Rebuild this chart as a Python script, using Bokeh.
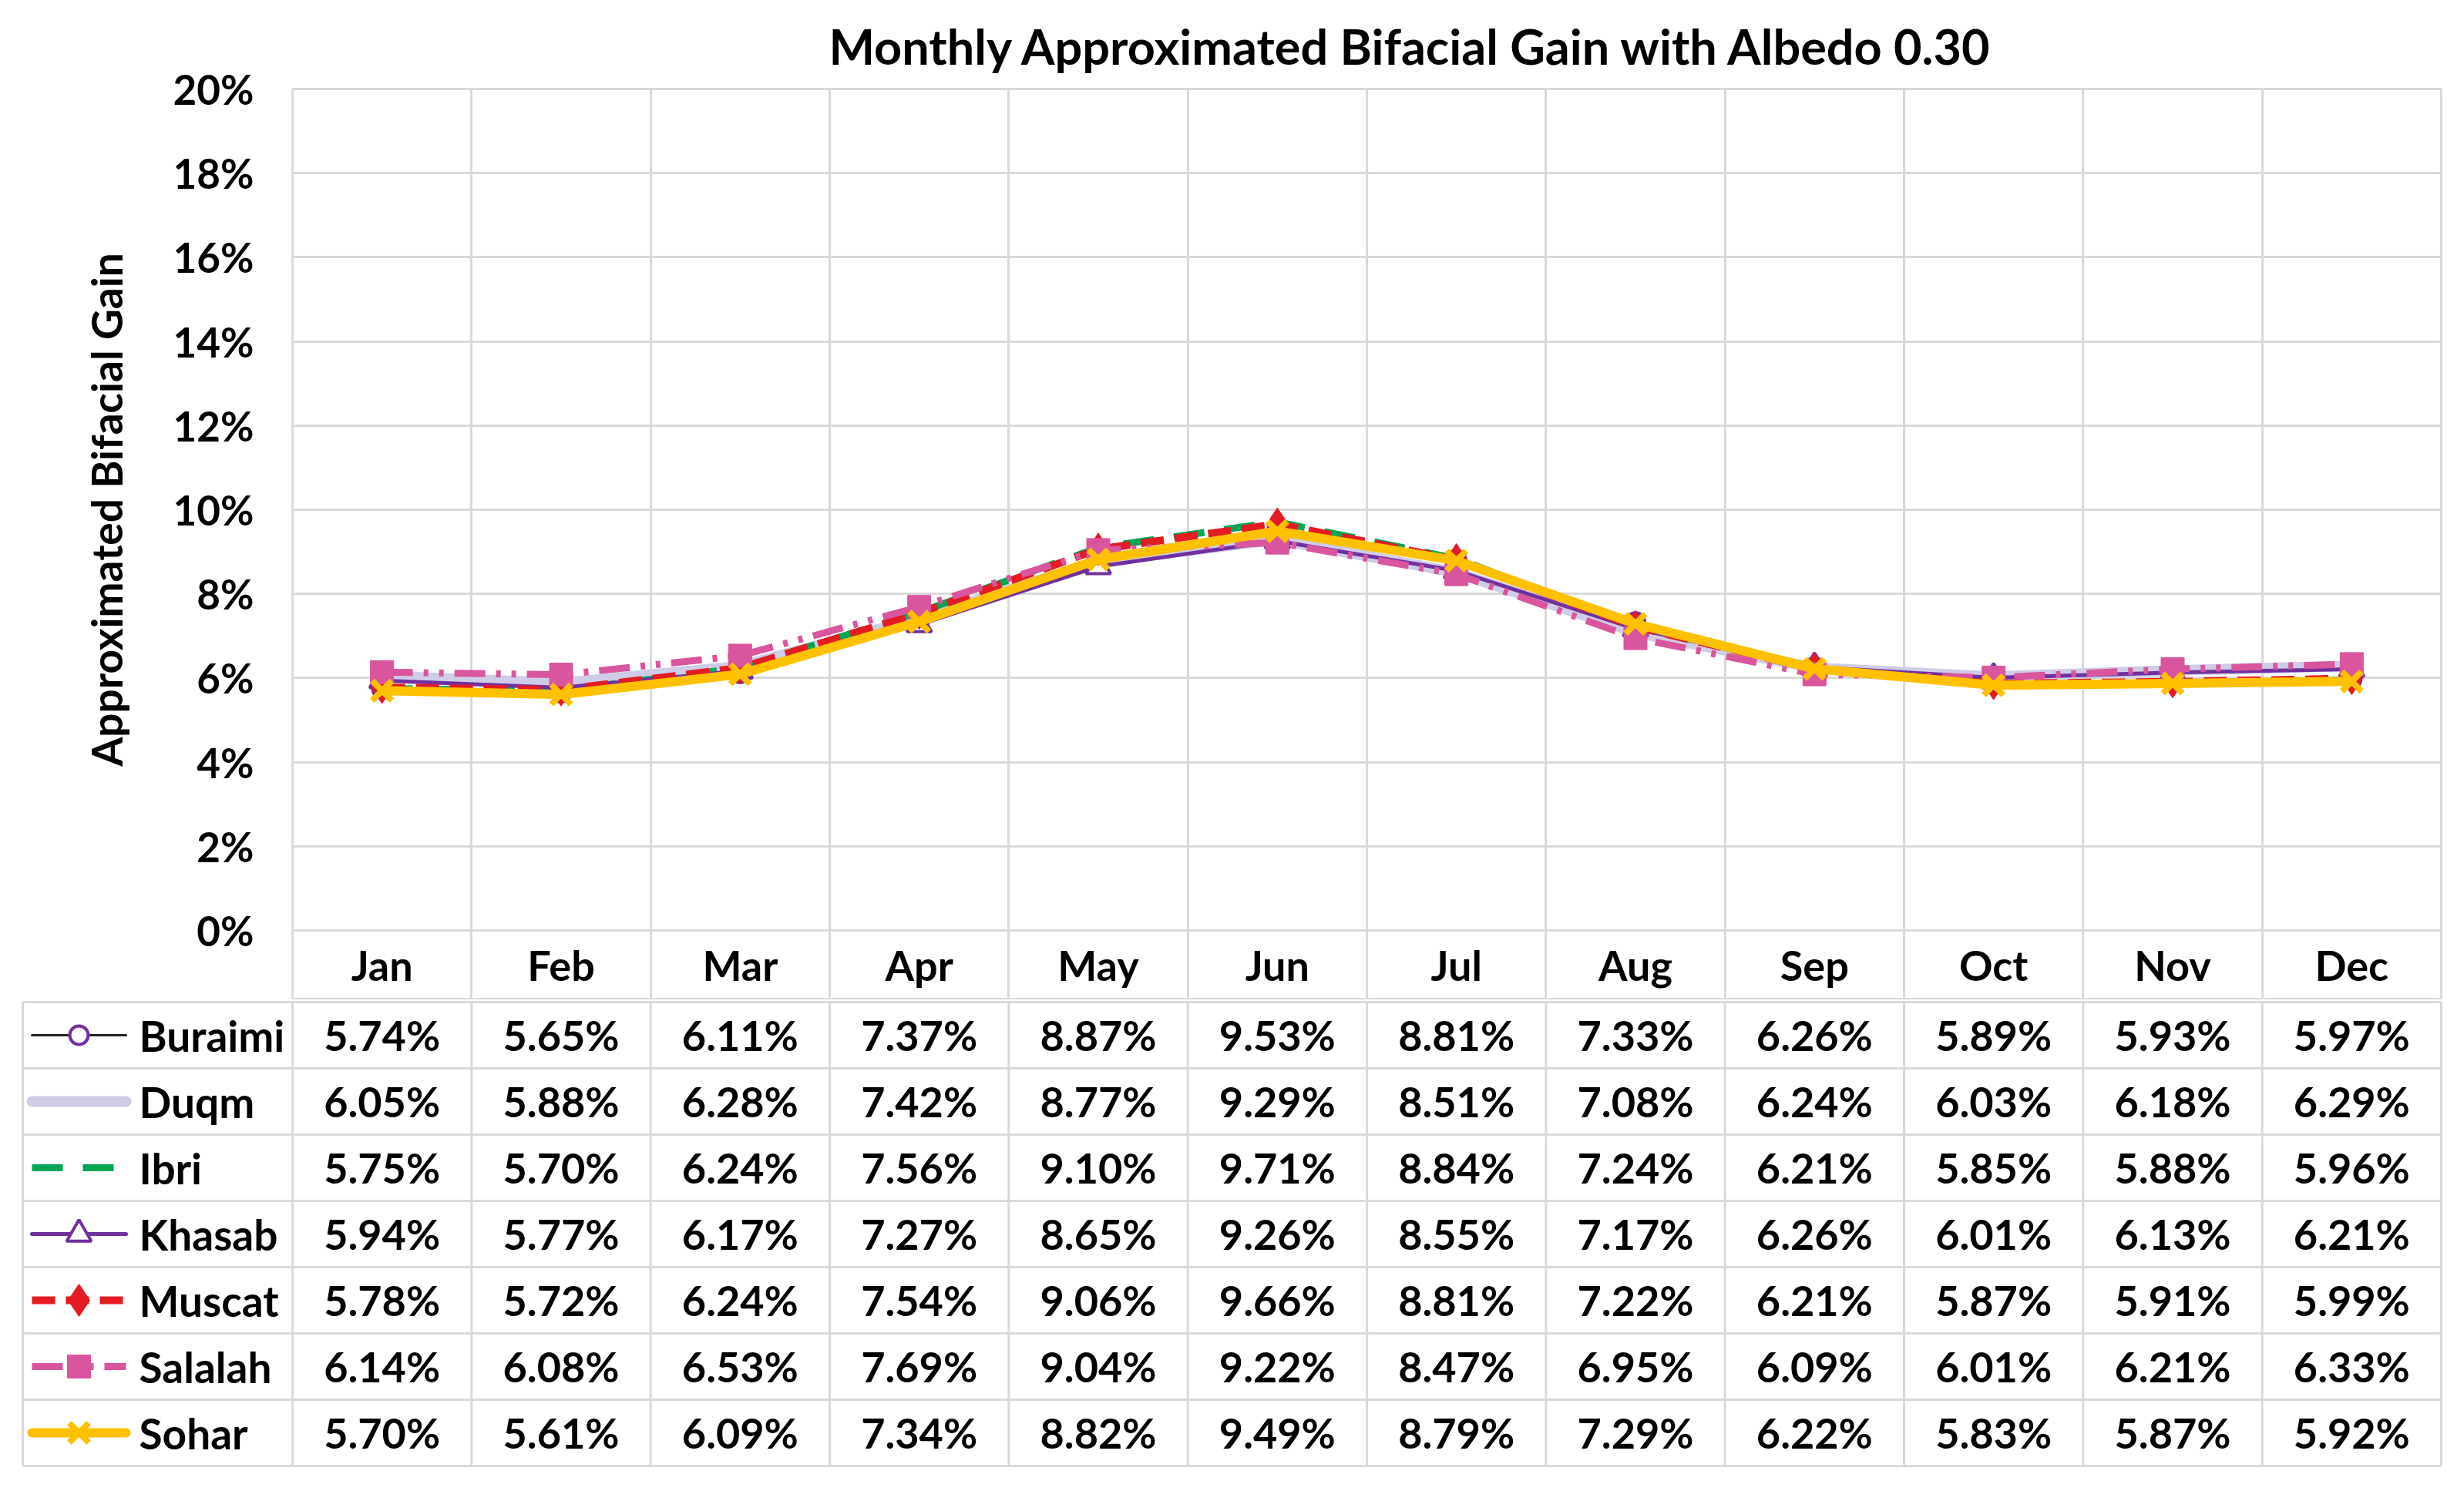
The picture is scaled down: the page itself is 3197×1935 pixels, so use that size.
import math
from bokeh.plotting import figure
from bokeh.layouts import row
from bokeh.models import Range1d, FixedTicker, PrintfTickFormatter
from bokeh.core.properties import value
from bokeh.embed import file_html
from bokeh.resources import INLINE

# ---------------- data ----------------
months = ["Jan", "Feb", "Mar", "Apr", "May", "Jun", "Jul", "Aug", "Sep", "Oct", "Nov", "Dec"]
sites = ["Buraimi", "Duqm", "Ibri", "Khasab", "Muscat", "Salalah", "Sohar"]
buraimi = [5.74, 5.65, 6.11, 7.37, 8.87, 9.53, 8.81, 7.33, 6.26, 5.89, 5.93, 5.97]
duqm = [6.05, 5.88, 6.28, 7.42, 8.77, 9.29, 8.51, 7.08, 6.24, 6.03, 6.18, 6.29]
ibri = [5.75, 5.70, 6.24, 7.56, 9.10, 9.71, 8.84, 7.24, 6.21, 5.85, 5.88, 5.96]
khasab = [5.94, 5.77, 6.17, 7.27, 8.65, 9.26, 8.55, 7.17, 6.26, 6.01, 6.13, 6.21]
muscat = [5.78, 5.72, 6.24, 7.54, 9.06, 9.66, 8.81, 7.22, 6.21, 5.87, 5.91, 5.99]
salalah = [6.14, 6.08, 6.53, 7.69, 9.04, 9.22, 8.47, 6.95, 6.09, 6.01, 6.21, 6.33]
sohar = [5.70, 5.61, 6.09, 7.34, 8.82, 9.49, 8.79, 7.29, 6.22, 5.83, 5.87, 5.92]
y_ticks = [0, 2, 4, 6, 8, 10, 12, 14, 16, 18, 20]
y_title = "Approximated Bifacial Gain"

series = [buraimi, duqm, ibri, khasab, muscat, salalah, sohar]

# ---------------- styles ----------------
styles = [
    dict(color="#222222", width=3, dash="solid", marker="circle", mcolor="#7030A0", mfill="white", msize=24, mlw=4),
    dict(color="#CFCCE8", width=14, dash="solid", marker=None),
    dict(color="#00A651", width=9, dash="40 26", marker=None),
    dict(color="#7030A0", width=5, dash="solid", marker="triangle", mcolor="#7030A0", mfill="white", msize=32, mlw=4),
    dict(color="#E31B23", width=10, dash="30 14", marker="diamond", mcolor="#E31B23", mfill="#E31B23", msize=42, mlw=1),
    dict(color="#D9559E", width=9, dash="40 14 6 14 6 14", marker="square", mcolor="#D9559E", mfill="#D9559E", msize=30, mlw=1),
    dict(color="#FFC000", width=12, dash="solid", marker="x", mcolor="#FFC000", mfill="#FFC000", msize=36, mlw=8),
]

FONT = "Lato"
GRID = "#D9D9D9"
W = 3181
LW = 210                        # width of the strip that holds the y-axis title
FR_L, FR_R = 379, 3167          # chart frame, page px
FR_T, Y0 = 114, 1207            # frame top, 0% line
HEAD = 90                       # month header below 0%
COL = (FR_R - FR_L) / 12.0
PXU = (Y0 - FR_T) / 20.0
H = Y0 + HEAD


def tx(px):
    return (px - FR_L) / COL


# ---------------- y-axis title strip ----------------
yl = figure(width=LW, height=H, x_range=Range1d(0, LW), y_range=Range1d(-HEAD / PXU, 20),
            output_backend="svg", toolbar_location=None, x_axis_location=None,
            y_axis_location=None, min_border_left=0, min_border_right=0,
            min_border_top=FR_T, min_border_bottom=0)
yl.xgrid.visible = False
yl.ygrid.visible = False
yl.outline_line_color = None
yl.text([137], [10], text=[y_title], angle=math.pi / 2, text_font=value(FONT),
        text_font_style="bold", text_font_size="55px", text_color="black",
        text_align="center", text_baseline="middle")

# ---------------- chart ----------------
p = figure(width=W - LW, height=H, x_range=Range1d(0, 12),
           y_range=Range1d(-HEAD / PXU, 20),
           output_backend="svg", toolbar_location=None, x_axis_location=None,
           min_border_left=FR_L - LW, min_border_right=W - FR_R, min_border_top=FR_T,
           min_border_bottom=0)
p.title.text = "Monthly Approximated Bifacial Gain with Albedo 0.30"
p.title.text_font = FONT
p.title.text_font_style = "bold"
p.title.text_font_size = "63px"
p.title.text_color = "black"
p.title.text_line_height = 1.0
p.title.align = "left"
p.title.offset = 1075 - FR_L
p.title.standoff = 38

p.yaxis.ticker = FixedTicker(ticks=y_ticks)
p.yaxis.formatter = PrintfTickFormatter(format="%d%%")
p.yaxis.major_label_text_font = FONT
p.yaxis.major_label_text_font_style = "bold"
p.yaxis.major_label_text_font_size = "53px"
p.yaxis.major_label_text_color = "black"
p.yaxis.axis_line_color = None
p.yaxis.major_tick_line_color = None
p.yaxis.minor_tick_line_color = None
p.yaxis.major_tick_in = 0
p.yaxis.major_tick_out = 0
p.yaxis.major_label_standoff = 50

p.ygrid.grid_line_color = GRID
p.ygrid.grid_line_width = 3
p.xgrid.ticker = FixedTicker(ticks=list(range(13)))
p.xgrid.grid_line_color = GRID
p.xgrid.grid_line_width = 3
p.outline_line_color = GRID
p.outline_line_width = 3

xc = [i + 0.5 for i in range(len(months))]
for vals, st in zip(series, styles):
    p.line(xc, vals, line_color=st["color"], line_width=st["width"], line_dash=st["dash"],
           line_join="round")
    if st["marker"]:
        p.scatter(xc, vals, marker=st["marker"], size=st["msize"], line_color=st["mcolor"],
                  fill_color=st["mfill"], line_width=st["mlw"])

p.text(xc, [-HEAD / 2 / PXU] * 12, text=months, text_font=value(FONT), text_font_style="bold",
       text_font_size="54px", text_align="center", text_baseline="middle", text_color="black")

# ---------------- table ----------------
T_L, T_R = 29, 3167           # table borders, page px
ROW = 86.0
PAD = 3

x0 = tx(T_L)
t = figure(width=W, height=int(7 * ROW + 2 * PAD), output_backend="svg", toolbar_location=None,
           x_axis_location=None, y_axis_location=None,
           x_range=Range1d(tx(T_L - PAD), tx(T_R + PAD)),
           y_range=Range1d(-7 - PAD / ROW, PAD / ROW),
           min_border_left=T_L - PAD, min_border_right=W - (T_R + PAD),
           min_border_top=0, min_border_bottom=0)
t.xgrid.visible = False
t.ygrid.visible = False
t.outline_line_color = None

sx0, sy0, sx1, sy1 = [], [], [], []
for r in range(8):
    sx0.append(x0); sx1.append(12); sy0.append(-r); sy1.append(-r)
for c in [x0] + list(range(13)):
    sx0.append(c); sx1.append(c); sy0.append(-7); sy1.append(0)
t.segment(sx0, sy0, sx1, sy1, line_color=GRID, line_width=3)

lx_a, lx_b, lx_m, lx_t = tx(41), tx(163), tx(102), tx(180)
for k, (name, vals, st) in enumerate(zip(sites, series, styles)):
    yr = -k - 0.5
    t.text(xc, [yr] * 12, text=[f"{v:.2f}%" for v in vals], text_font=value(FONT),
           text_font_style="bold", text_font_size="54px", text_align="center",
           text_baseline="middle", text_color="black")
    t.text([lx_t], [yr], text=[name], text_font=value(FONT), text_font_style="bold",
           text_font_size="55px", text_align="left", text_baseline="middle", text_color="black")
    t.line([lx_a, lx_b], [yr, yr], line_color=st["color"], line_width=st["width"],
           line_dash=st["dash"], line_cap="round" if st["dash"] == "solid" else "butt")
    if st["marker"]:
        t.scatter([lx_m], [yr], marker=st["marker"], size=st["msize"], line_color=st["mcolor"],
                  fill_color=st["mfill"], line_width=st["mlw"])

top = row(yl, p, spacing=0)
open("out.html", "w").write(file_html([top, t], INLINE))
